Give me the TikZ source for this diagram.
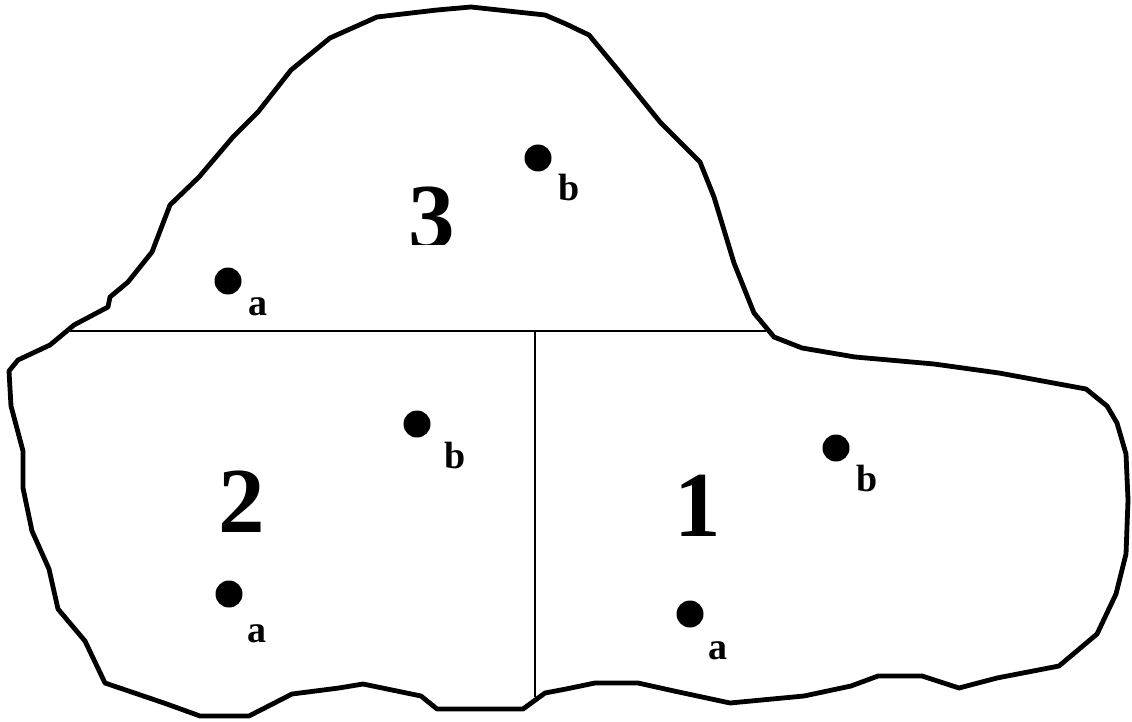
\documentclass[tikz,border=0pt]{standalone}
\usepackage{fontspec}
\setmainfont{Liberation Serif}
\begin{document}
\begin{tikzpicture}[x=1pt,y=-1pt,
  outline/.style={line width=4.8pt,line join=round,line cap=round},
  divider/.style={line width=2.2pt},
  dot/.style={circle,fill=black,minimum size=27pt,inner sep=0pt},
  region/.style={inner sep=0pt,font=\fontsize{93}{93}\selectfont\bfseries},
  lbl/.style={inner sep=0pt,font=\fontsize{38}{38}\selectfont\bfseries}]
\useasboundingbox (0,0) rectangle (1132,722);
\draw[outline] (18,360) -- (50,345) -- (74,325) -- (108,307) -- (110,297) -- (128,282) -- (152,252) -- (170,205) -- (199,177) -- (233,137) -- (258,112) -- (291,70) -- (330,38) -- (377,17) -- (437,10) -- (471,7) -- (545,15) -- (566,24) -- (589,35) -- (618,70) -- (660,122) -- (700,162) -- (714,197) -- (734,263) -- (754,313) -- (774,337) -- (802,348) -- (855,357) -- (934,364) -- (999,373) -- (1086,389) -- (1107,406) -- (1117,423) -- (1126,454) -- (1128,500) -- (1126,554) -- (1116,594) -- (1097,634) -- (1059,666) -- (997,678) -- (959,688) -- (922,676) -- (878,676) -- (851,686) -- (804,696) -- (730,703) -- (674,691) -- (638,683) -- (595,683) -- (566,689) -- (545,693) -- (523,709) -- (437,709) -- (421,696) -- (363,684) -- (339,688) -- (292,694) -- (249,716) -- (200,716) -- (164,703) -- (105,683) -- (85,641) -- (58,609) -- (49,569) -- (32,531) -- (23,488) -- (23,451) -- (11,406) -- (9,371) -- cycle;
\coordinate (hl) at (70,331);
\coordinate (hr) at (766,331);
\coordinate (vt) at (535,331);
\coordinate (vb) at (535,697);
\draw[divider] (hl) -- (hr);
\draw[divider] (vt) -- (vb);
% region 3
\begin{scope}
\clip (380,150) rectangle (480,244);
\node[region] (r3) at (432,218) {3};
\end{scope}
\node[dot] (d3a) at (228,281) {};
\node[lbl] (l3a) at (258,307) {a};
\node[dot] (d3b) at (538,158) {};
\node[lbl] (l3b) at (569,188) {b};
% region 2
\node[region] (r2) at (242,502) {2};
\node[dot] (d2b) at (417,424) {};
\node[lbl] (l2b) at (455,455) {b};
\node[dot] (d2a) at (229,594) {};
\node[lbl] (l2a) at (257,634) {a};
% region 1
\node[region] (r1) at (698,506) {1};
\node[dot] (d1b) at (836,448) {};
\node[lbl] (l1b) at (867,478) {b};
\node[dot] (d1a) at (690,614) {};
\node[lbl] (l1a) at (718,651) {a};
\end{tikzpicture}
\end{document}
